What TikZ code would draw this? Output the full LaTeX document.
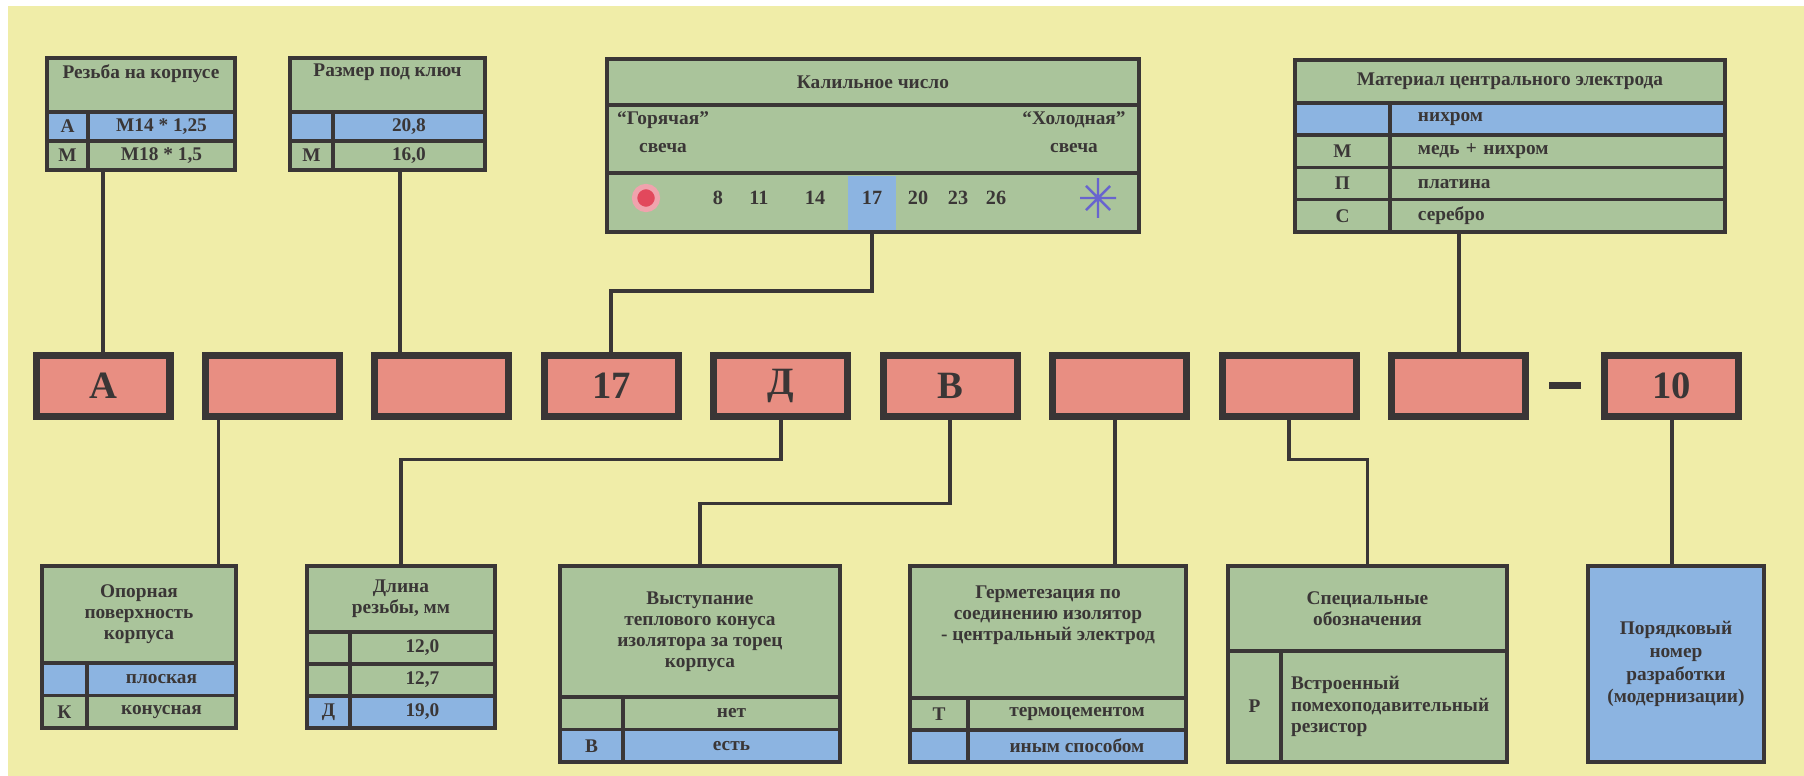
\documentclass[tikz,border=0pt]{standalone}
\usepackage{fontspec}
\setmainfont{Liberation Serif}
\usepackage{tikz}
\usetikzlibrary{positioning}
\definecolor{paper}{RGB}{240,237,168}
\definecolor{tabgreen}{RGB}{170,196,155}
\definecolor{tabblue}{RGB}{140,180,225}
\definecolor{codered}{RGB}{232,142,130}
\definecolor{ink}{RGB}{58,54,54}
\definecolor{hotred}{RGB}{226,72,92}
\definecolor{coldblue}{RGB}{104,100,206}
\tikzstyle{wire} = [ink, line width=2.2pt]
\tikzstyle{codebox} = [rectangle,
minimum width=2.68cm,
minimum height=1.22cm,
draw=ink, line width=4pt,
fill=codered, text=ink, outer sep=0pt,
font=\fontsize{22}{24}\selectfont\bfseries]
\tikzstyle{tcell} = [rectangle, anchor=north west,
inner sep=0pt, outer sep=0pt,
draw=ink, line width=2pt,
fill=tabgreen, text=ink, align=center,
font=\fontsize{11}{12}\selectfont\bfseries]
\tikzstyle{tcellb} = [tcell, fill=tabblue]
\tikzstyle{ttext} = [inner sep=0pt, text=ink, align=center,
font=\fontsize{11}{12}\selectfont\bfseries]
\tikzstyle{heat} = [ttext, font=\fontsize{11.5}{12}\selectfont\bfseries]

\begin{document}
\begin{tikzpicture}[x=0.02cm, y=-0.02cm, node distance=3.39cm]
    \fill[white] (0,0) rectangle (1804,776);
    \fill[paper] (8,6) rectangle (1804,776);
    \useasboundingbox (0,0) rectangle (1804,776);

    % code row
    \node (c1) [codebox] at (103,386) {А};
    \node (c2) [codebox, right of=c1] {};
    \node (c3) [codebox, right of=c2] {};
    \node (c4) [codebox, right of=c3] {17};
    \node (c5) [codebox, right of=c4] {Д};
    \node (c6) [codebox, right of=c5] {В};
    \node (c7) [codebox, right of=c6] {};
    \node (c8) [codebox, right of=c7] {};
    \node (c9) [codebox, right of=c8] {};
    \node (dash) [right of=c9, xshift=-1.27cm, fill=ink, minimum width=0.64cm, minimum height=0.14cm, inner sep=0pt] {};
    \node (c10) [codebox, right of=c9, xshift=0.87cm] {10};

    % thread
    \node (t1h)  [tcell, minimum width=3.76cm, minimum height=1.08cm] at (47,58) {};
    \node (t1t)  [ttext, below=0.12cm of t1h.north] {Резьба на корпусе};
    \node (t1ak) [tcellb, minimum width=0.82cm, minimum height=0.58cm] at (t1h.south west) {А};
    \node (t1av) [tcellb, minimum width=2.94cm, minimum height=0.58cm] at (t1ak.north east) {М14 * 1,25};
    \node (t1mk) [tcell, minimum width=0.82cm, minimum height=0.58cm] at (t1ak.south west) {М};
    \node (t1mv) [tcell, minimum width=2.94cm, minimum height=0.58cm] at (t1mk.north east) {М18 * 1,5};

    % wrench size
    \node (t2h)  [tcell, minimum width=3.9cm, minimum height=1.08cm] at (290,58) {};
    \node (t2t)  [ttext, below=0.12cm of t2h.north] {Размер под ключ};
    \node (t2ak) [tcellb, minimum width=0.86cm, minimum height=0.58cm] at (t2h.south west) {};
    \node (t2av) [tcellb, minimum width=3.04cm, minimum height=0.58cm] at (t2ak.north east) {20,8};
    \node (t2mk) [tcell, minimum width=0.86cm, minimum height=0.58cm] at (t2ak.south west) {М};
    \node (t2mv) [tcell, minimum width=3.04cm, minimum height=0.58cm] at (t2mk.north east) {16,0};

    % heat range
    \node (t3h) [tcell, minimum width=10.64cm, minimum height=0.92cm] at (607,59) {Калильное число};
    \node (t3m) [tcell, minimum width=10.64cm, minimum height=1.36cm] at (t3h.south west) {};
    \node (t3s) [tcell, minimum width=10.64cm, minimum height=1.18cm] at (t3m.south west) {};
    \node (hotlbl)  [ttext, font=\fontsize{11}{16}\selectfont\bfseries] at (663,132) {“Горячая”\\свеча};
    \node (coldlbl) [ttext, font=\fontsize{11}{16}\selectfont\bfseries] at (1074,132) {“Холодная”\\свеча};
    \node (n17) [fill=tabblue, minimum width=0.96cm, minimum height=1.1cm, inner sep=0pt] at (872,203) {};
    \node (n17t) [heat] at (872,198) {17};
    \node (n8)  [heat] at (718,198) {8};
    \node (n11) [heat] at (759,198) {11};
    \node (n14) [heat] at (815,198) {14};
    \node (n20) [heat] at (918,198) {20};
    \node (n23) [heat] at (958,198) {23};
    \node (n26) [heat] at (996,198) {26};
    \node (hot) [circle, fill=hotred, draw=hotred!50, line width=3pt, minimum size=0.46cm, inner sep=0pt] at (646,198) {};
    \coordinate (cold) at (1098,198);
    \draw [coldblue, line width=1.4pt] (cold) +(0:0.36cm) -- +(180:0.36cm) (cold) +(90:0.4cm) -- +(270:0.4cm)
        (cold) +(45:0.34cm) -- +(225:0.34cm) (cold) +(135:0.34cm) -- +(315:0.34cm);

    % electrode
    \node (t4h)  [tcell, minimum width=8.6cm, minimum height=0.86cm] at (1295,60) {Материал центрального электрода};
    \node (t4ak) [tcellb, minimum width=1.9cm, minimum height=0.645cm] at (t4h.south west) {};
    \node (t4av) [tcellb, minimum width=6.7cm, minimum height=0.645cm, text width=5.58cm, inner xsep=0.56cm, align=left] at (t4ak.north east) {нихром};
    \node (t4bk) [tcell, minimum width=1.9cm, minimum height=0.645cm] at (t4ak.south west) {М};
    \node (t4bv) [tcell, minimum width=6.7cm, minimum height=0.645cm, text width=5.58cm, inner xsep=0.56cm, align=left] at (t4bk.north east) {медь + нихром};
    \node (t4ck) [tcell, minimum width=1.9cm, minimum height=0.645cm] at (t4bk.south west) {П};
    \node (t4cv) [tcell, minimum width=6.7cm, minimum height=0.645cm, text width=5.58cm, inner xsep=0.56cm, align=left] at (t4ck.north east) {платина};
    \node (t4dk) [tcell, minimum width=1.9cm, minimum height=0.645cm] at (t4ck.south west) {С};
    \node (t4dv) [tcell, minimum width=6.7cm, minimum height=0.645cm, text width=5.58cm, inner xsep=0.56cm, align=left] at (t4dk.north east) {серебро};

    % seat
    \node (b1h)  [tcell, minimum width=3.88cm, minimum height=1.94cm] at (42,566) {Опорная\\поверхность\\корпуса};
    \node (b1ak) [tcellb, minimum width=0.9cm, minimum height=0.65cm] at (b1h.south west) {};
    \node (b1av) [tcellb, minimum width=2.98cm, minimum height=0.65cm] at (b1ak.north east) {плоская};
    \node (b1bk) [tcell, minimum width=0.9cm, minimum height=0.65cm] at (b1ak.south west) {К};
    \node (b1bv) [tcell, minimum width=2.98cm, minimum height=0.65cm] at (b1bk.north east) {конусная};

    % thread length
    \node (b2h)  [tcell, minimum width=3.76cm, minimum height=1.32cm] at (307,566) {Длина\\резьбы, мм};
    \node (b2ak) [tcell, minimum width=0.86cm, minimum height=0.64cm] at (b2h.south west) {};
    \node (b2av) [tcell, minimum width=2.9cm, minimum height=0.64cm] at (b2ak.north east) {12,0};
    \node (b2bk) [tcell, minimum width=0.86cm, minimum height=0.64cm] at (b2ak.south west) {};
    \node (b2bv) [tcell, minimum width=2.9cm, minimum height=0.64cm] at (b2bk.north east) {12,7};
    \node (b2ck) [tcellb, minimum width=0.86cm, minimum height=0.64cm] at (b2bk.south west) {Д};
    \node (b2cv) [tcellb, minimum width=2.9cm, minimum height=0.64cm] at (b2ck.north east) {19,0};

    % insulator cone
    \node (b3h)  [tcell, minimum width=5.6cm, minimum height=2.62cm] at (560,566) {Выступание\\теплового конуса\\изолятора за торец\\корпуса};
    \node (b3ak) [tcell, minimum width=1.26cm, minimum height=0.65cm] at (b3h.south west) {};
    \node (b3av) [tcell, minimum width=4.34cm, minimum height=0.65cm] at (b3ak.north east) {нет};
    \node (b3bk) [tcellb, minimum width=1.26cm, minimum height=0.65cm] at (b3ak.south west) {В};
    \node (b3bv) [tcellb, minimum width=4.34cm, minimum height=0.65cm] at (b3bk.north east) {есть};

    % sealing
    \node (b4h)  [tcell, minimum width=5.52cm, minimum height=2.64cm] at (910,566) {};
    \node (b4t)  [ttext, below=0.38cm of b4h.north] {Герметезация по\\соединению изолятор\\- центральный электрод};
    \node (b4ak) [tcell, minimum width=1.16cm, minimum height=0.64cm] at (b4h.south west) {Т};
    \node (b4av) [tcell, minimum width=4.36cm, minimum height=0.64cm] at (b4ak.north east) {термоцементом};
    \node (b4bk) [tcellb, minimum width=1.16cm, minimum height=0.64cm] at (b4ak.south west) {};
    \node (b4bv) [tcellb, minimum width=4.36cm, minimum height=0.64cm] at (b4bk.north east) {иным способом};

    % special marks
    \node (b5h)  [tcell, minimum width=5.58cm, minimum height=1.7cm] at (1228,566) {Специальные\\обозначения};
    \node (b5ak) [tcell, minimum width=1.06cm, minimum height=2.22cm] at (b5h.south west) {Р};
    \node (b5av) [tcell, minimum width=4.52cm, minimum height=2.22cm, text width=4.12cm, inner xsep=0.2cm, align=left] at (b5ak.north east) {Встроенный\\помехоподавительный\\резистор};

    % serial number
    \node (b6) [tcellb, minimum width=3.52cm, minimum height=3.92cm, font=\fontsize{11}{13}\selectfont\bfseries] at (1588,566) {Порядковый\\номер\\разработки\\(модернизации)};

    \draw [wire] (t1mk.south -| c1.north) -- (c1.north);
    \draw [wire] ([xshift=-0.18cm]t2mv.south) -- ([xshift=-0.18cm]t2mv.south |- c3.north);
    \draw [wire] (n17.south) -- ++(0,-1.2cm) -| (c4.north);
    \draw [wire] (t4dv.south -| c9.north) -- (c9.north);
    \draw [wire] ([xshift=-1.08cm]c2.south) -- ([xshift=-1.08cm]c2.south |- b1h.north);
    \draw [wire] (c5.south) -- ++(0,-0.86cm) -| (b2h.north);
    \draw [wire] (c6.south) -- ++(0,-1.74cm) -| (b3h.north);
    \draw [wire] ([xshift=-0.1cm]c7.south) -- ([xshift=-0.1cm]c7.south |- b4h.north);
    \draw [wire] (c8.south) -- ++(0,-0.86cm) -| (b5h.north);
    \draw [wire] (c10.south) -- (c10.south |- b6.north);

\end{tikzpicture}
\end{document}
